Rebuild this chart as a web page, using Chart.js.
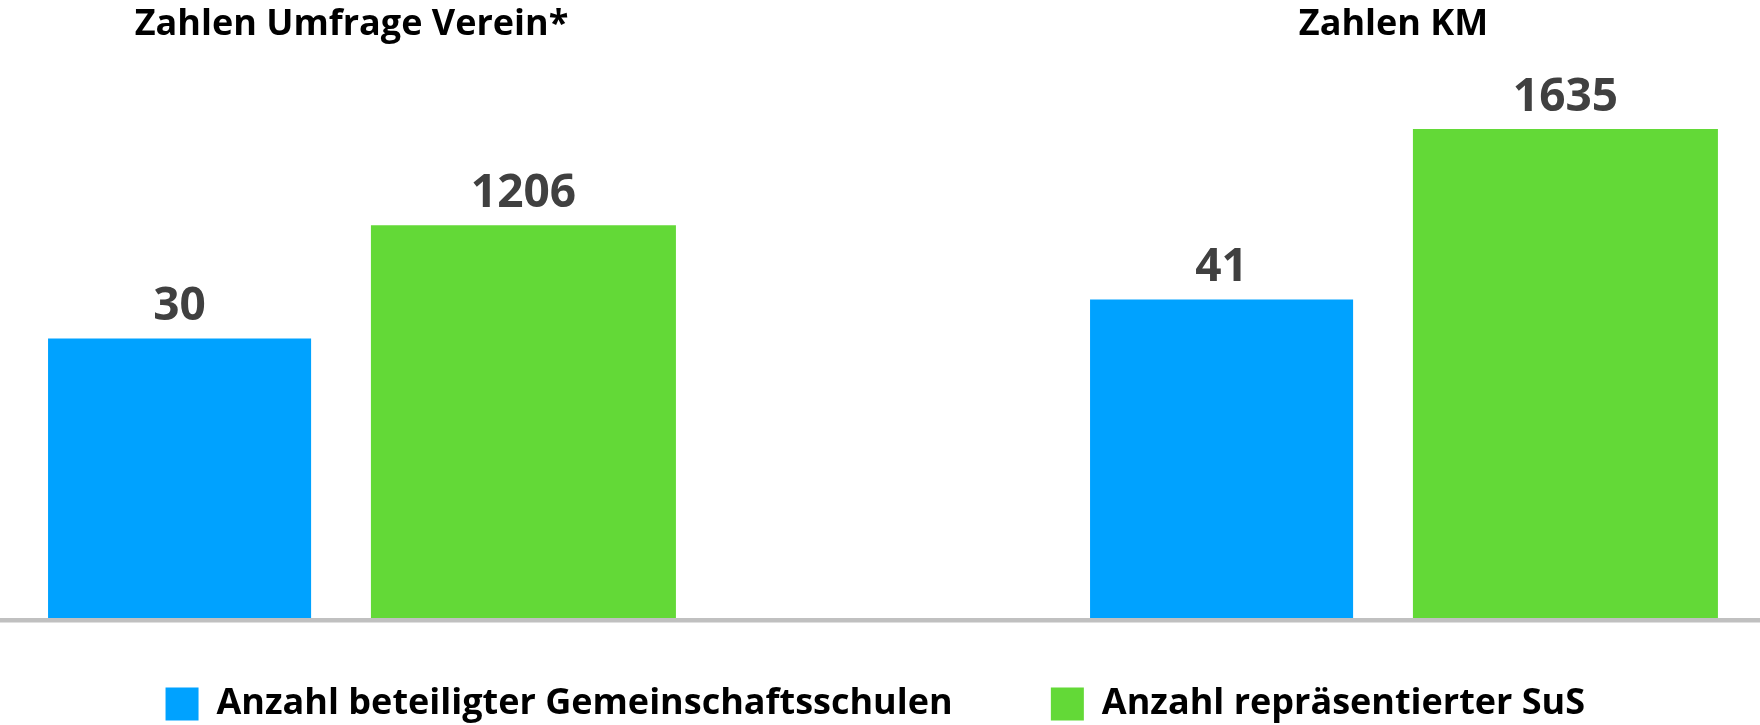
<!DOCTYPE html>
<html>
<head>
<meta charset="utf-8">
<script src="https://cdn.jsdelivr.net/npm/chart.js@4.4.0/dist/chart.umd.min.js"></script>
<style>
  html, body { margin: 0; padding: 0; background: #fff; }
  #wrap { width: 1760px; height: 725px; }
</style>
</head>
<body>
<div id="wrap"><canvas id="chart"></canvas></div>
<script>
const groups = ['Zahlen Umfrage Verein*', 'Zahlen KM'];
const schoolLabel = 'Anzahl beteiligter Gemeinschaftsschulen';
const studentLabel = 'Anzahl repräsentierter SuS';
const schoolCounts = [30, 41];
const studentCounts = [1206, 1635];

// the bars in the original are not drawn from zero, so each series gets its own hidden axis
const schoolAxis = { min: -49.5, max: 109.6 };
const studentAxis = { min: -559, max: 1961 };

const BLUE = '#00a2ff';
const GREEN = '#63d937';
const FONT = "'Open Sans', sans-serif";

// numbers above the bars
const valueLabels = {
    id: 'valueLabels',
    afterDatasetsDraw(chart) {
        const ctx = chart.ctx;
        ctx.save();
        ctx.font = '700 46px ' + FONT;
        ctx.fillStyle = '#404040';
        ctx.textAlign = 'center';
        ctx.textBaseline = 'alphabetic';
        chart.data.datasets.forEach((ds, i) => {
            chart.getDatasetMeta(i).data.forEach((bar, j) => {
                ctx.fillText(ds.data[j], bar.x, bar.y - 18);
            });
        });
        ctx.restore();
    }
};

// empty side axes only hold the space so the two groups sit where they do in the original
const spacer = (pos, w) => ({
    display: true,
    position: pos,
    grid: { display: false },
    border: { display: false },
    ticks: { display: false },
    afterFit(scale) { scale.width = w; }
});

new Chart(document.getElementById('chart'), {
    type: 'bar',
    data: {
        labels: groups,
        datasets: [{
            label: schoolLabel,
            data: schoolCounts,
            backgroundColor: BLUE,
            yAxisID: 'y',
            base: schoolAxis.min,
            clip: false,
            categoryPercentage: 0.66,
            barPercentage: 0.765
        }, {
            label: studentLabel,
            data: studentCounts,
            backgroundColor: GREEN,
            yAxisID: 'y1',
            base: studentAxis.min,
            clip: false,
            categoryPercentage: 0.66,
            barPercentage: 0.887
        }]
    },
    options: {
        responsive: true,
        maintainAspectRatio: false,
        animation: false,
        layout: {
            padding: { left: 0, right: 0, top: 0, bottom: -7 }
        },
        plugins: {
            tooltip: { enabled: false },
            legend: {
                position: 'bottom',
                labels: {
                    color: '#000',
                    font: { family: FONT, size: 36, weight: 700 },
                    boxWidth: 33,
                    boxHeight: 33,
                    padding: 14,
                    generateLabels(chart) {
                        // wider gap between the two entries, as in the original
                        const items = Chart.defaults.plugins.legend.labels.generateLabels(chart);
                        items[0].text += '         ';
                        items[1].text += ' ';
                        return items;
                    }
                }
            }
        },
        scales: {
            x: {
                position: 'top',
                offset: false,
                grid: { display: false, drawTicks: false },
                border: { display: false },
                ticks: {
                    color: '#000',
                    font: { family: FONT, size: 36, weight: 700 },
                    padding: 10,
                    maxRotation: 0,
                    autoSkip: false
                },
                afterFit(scale) { scale.height = 56; }
            },
            xBase: {
                type: 'category',
                position: 'bottom',
                fullSize: true,
                grid: { display: false, drawTicks: false },
                border: { display: true, color: '#c0c0c0', width: 4.5, z: 1 },
                ticks: { display: false },
                afterFit(scale) { scale.height = 51.5; }
            },
            y: Object.assign(spacer('left', 351.5), {
                min: schoolAxis.min,
                max: schoolAxis.max
            }),
            y1: Object.assign(spacer('right', 366.5), {
                min: studentAxis.min,
                max: studentAxis.max
            })
        }
    },
    plugins: [valueLabels]
});
</script>
</body>
</html>
